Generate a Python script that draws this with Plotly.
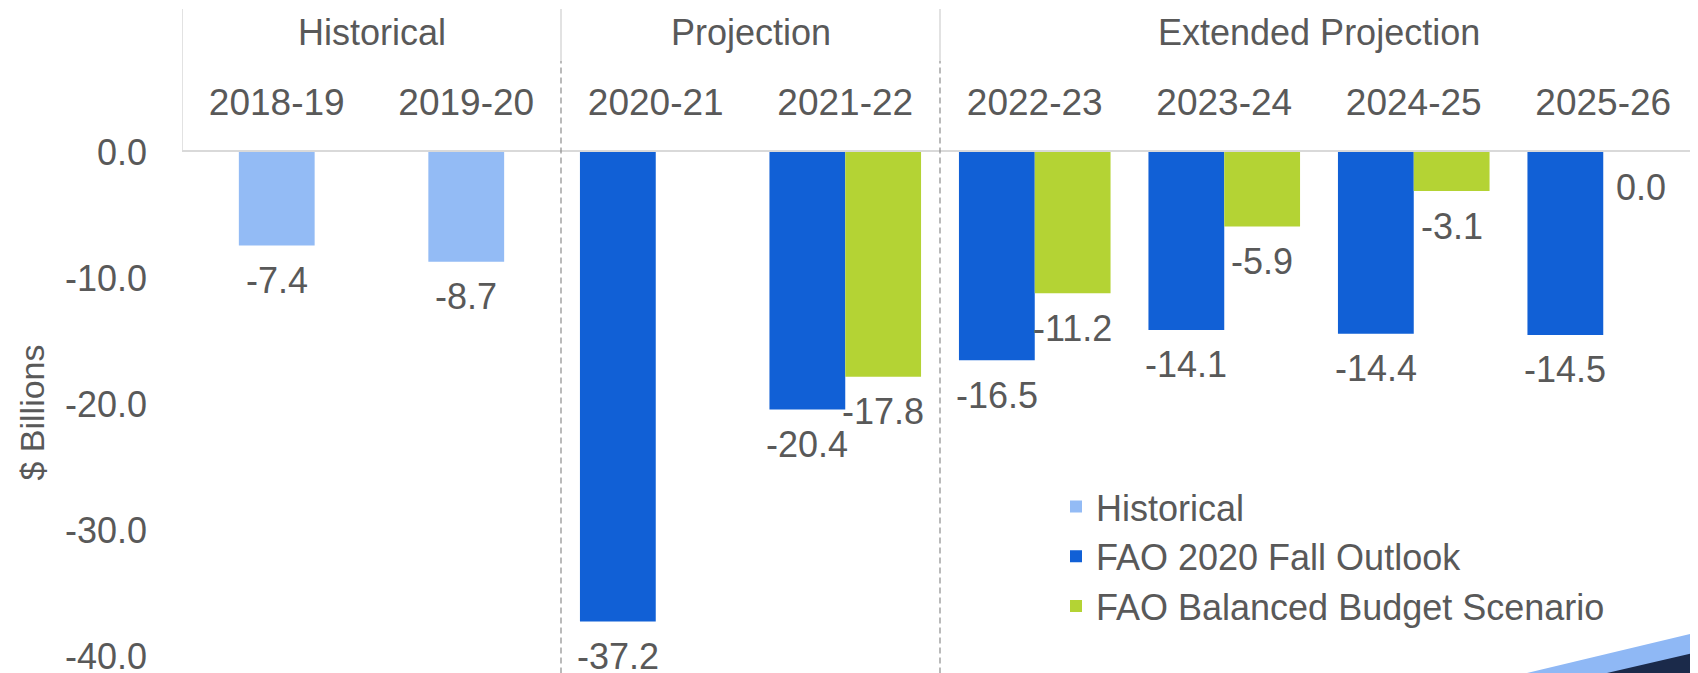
import plotly.graph_objects as go

years = ["2018-19", "2019-20", "2020-21", "2021-22", "2022-23", "2023-24", "2024-25", "2025-26"]
groups = ["Historical", "Projection", "Extended Projection"]
group_centers = [0.5, 2.5, 5.5]

hist_years = ["2018-19", "2019-20"]
hist_vals = [-7.4, -8.7]

fall_years = ["2020-21", "2021-22", "2022-23", "2023-24", "2024-25", "2025-26"]
fall_vals = [-37.2, -20.4, -16.5, -14.1, -14.4, -14.5]

bal_years = ["2021-22", "2022-23", "2023-24", "2024-25", "2025-26"]
bal_vals = [-17.8, -11.2, -5.9, -3.1, 0.0]

y_ticks = [0, -10, -20, -30, -40]
y_ticktext = ["0.0", "-10.0", "-20.0", "-30.0", "-40.0"]

GREY = "#595959"
FONT = "Liberation Sans"
OFF = 8                 # default body margin of the html page
W, H = 1698, 673        # window size
L, T = 182, 152         # plot area top-left, in page pixels
PLOT_W = W - L
PLOT_H = H - T
CAT_W = PLOT_W / len(years)
PX_PER_UNIT = 12.62

fig = go.Figure()
fig.add_trace(go.Bar(x=hist_years, y=hist_vals, name="Historical", legendgroup="a",
                     marker_color="#93bbf5", width=0.4, offset=-0.2))
fig.add_trace(go.Bar(x=fall_years, y=fall_vals, name="FAO 2020 Fall Outlook", legendgroup="b",
                     marker_color="#1160d6", width=0.4, offset=-0.4))
fig.add_trace(go.Bar(x=bal_years, y=bal_vals, name="FAO Balanced Budget Scenario", legendgroup="c",
                     marker_color="#b4d334", width=0.4, offset=0.0))
fig.update_traces(marker_line_width=0, hoverinfo="skip")

# data labels below the bar ends
for xs, vs, shift in [(hist_years, hist_vals, 0.0), (fall_years, fall_vals, -0.2), (bal_years, bal_vals, 0.2)]:
    for x, v in zip(xs, vs):
        fig.add_annotation(x=x, y=v, text=f"{v:.1f}", showarrow=False,
                           xshift=shift * CAT_W, yshift=-35, yanchor="middle",
                           font=dict(size=36, color=GREY, family=FONT))

# header: group titles and separators
for g, c in zip(groups, group_centers):
    fig.add_annotation(x=c, y=1 + (T - 32) / PLOT_H, xref="x", yref="paper", text=g,
                       showarrow=False, yanchor="middle",
                       font=dict(size=36, color=GREY, family=FONT))

top_y = 1 + (T - 9) / PLOT_H
mid_y = 1 + (T - 61) / PLOT_H
fig.add_shape(type="line", xref="x", yref="paper", x0=-0.5, x1=-0.5, y0=1, y1=top_y,
              line=dict(color="#d9d9d9", width=1.5))
for xb in [1.5, 3.5]:
    fig.add_shape(type="line", xref="x", yref="paper", x0=xb, x1=xb, y0=mid_y, y1=top_y,
                  line=dict(color="#d9d9d9", width=1.5))
    fig.add_shape(type="line", xref="x", yref="paper", x0=xb, x1=xb, y0=-0.02, y1=mid_y,
                  line=dict(color="#8c8c8c", width=1.2, dash="6px,4px"))

# corner decoration
def px(xp):
    return (xp - L) / PLOT_W

def py(yp):
    return (H - yp) / PLOT_H

fig.add_shape(type="path", xref="paper", yref="paper",
              path=f"M {px(1527)},{py(673)} L {px(1698)},{py(632)} L {px(1698)},{py(673)} Z",
              fillcolor="#8fb8f5", line_width=0)
fig.add_shape(type="path", xref="paper", yref="paper",
              path=f"M {px(1607)},{py(673)} L {px(1698)},{py(652)} L {px(1698)},{py(673)} Z",
              fillcolor="#1b2a4a", line_width=0)

fig.update_layout(
    width=W - OFF, height=H - OFF,
    margin=dict(l=L - OFF, r=0, t=T - OFF, b=0, pad=0),
    barmode="overlay",
    plot_bgcolor="white", paper_bgcolor="white",
    font=dict(family=FONT, size=36, color=GREY),
    showlegend=True,
    legend=dict(x=(1096 - 40 - L) / PLOT_W, y=0.377, xanchor="left", yanchor="top",
                bgcolor="rgba(0,0,0,0)", font=dict(size=36, color=GREY, family=FONT),
                traceorder="normal", tracegroupgap=4),
    xaxis=dict(categoryorder="array", categoryarray=years, range=[-0.5, 7.5],
               side="top", showgrid=False, zeroline=False, automargin=False,
               showline=True, linecolor="#d9d9d9", linewidth=1.5,
               ticks="outside", ticklen=20, tickcolor="rgba(0,0,0,0)",
               tickfont=dict(size=37, color=GREY, family=FONT)),
    yaxis=dict(range=[-PLOT_H / PX_PER_UNIT, 0], tickvals=y_ticks, ticktext=y_ticktext,
               showgrid=False, zeroline=False, showline=False, automargin=False,
               ticks="", ticklabelstandoff=34, ticklabeloverflow="allow",
               tickfont=dict(size=36, color=GREY, family=FONT),
               title=dict(text="$ Billions", standoff=10,
                          font=dict(size=34, color=GREY, family=FONT))),
)

fig.write_html("out.html")
